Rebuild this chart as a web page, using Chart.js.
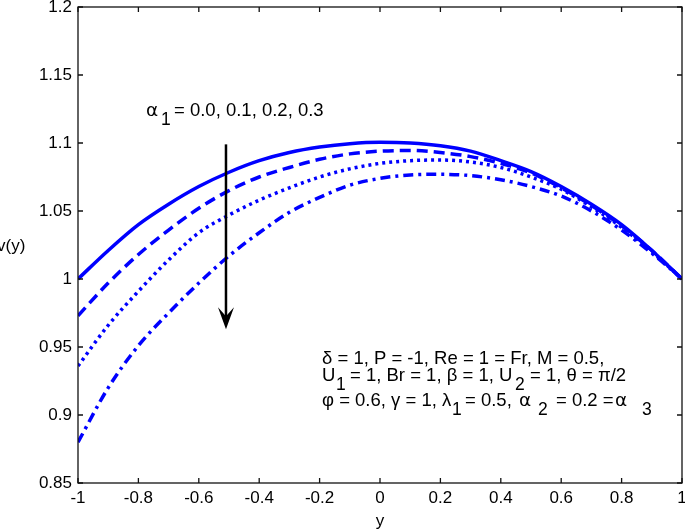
<!DOCTYPE html>
<html><head><meta charset="utf-8">
<script src="https://cdn.jsdelivr.net/npm/chart.js@4.4.0/dist/chart.umd.min.js"></script>
<style>html,body{margin:0;padding:0;background:#fff;overflow:hidden}</style>
</head><body>
<canvas id="c" width="685" height="532" style="width:685px;height:532px"></canvas>
<script>
// ---- data ----
const yPos = [-1,-0.9,-0.8,-0.7,-0.6,-0.5,-0.4,-0.3,-0.2,-0.1,0,0.1,0.2,0.3,0.4,0.5,0.6,0.7,0.8,0.9,1];
const v_a00 = [1.000,1.021,1.040,1.055,1.068,1.0785,1.087,1.093,1.097,1.0995,1.1005,1.100,1.098,1.094,1.087,1.079,1.068,1.055,1.040,1.021,1.000];
const v_a01 = [0.973,0.997,1.018,1.036,1.052,1.065,1.075,1.082,1.088,1.092,1.094,1.0945,1.093,1.090,1.085,1.078,1.067,1.054,1.039,1.021,1.000];
const v_a02 = [0.936,0.966,0.991,1.014,1.034,1.047,1.058,1.067,1.075,1.081,1.085,1.087,1.0875,1.086,1.082,1.075,1.066,1.053,1.038,1.020,1.000];
const v_a03 = [0.880,0.920,0.951,0.975,0.997,1.017,1.034,1.049,1.060,1.069,1.074,1.0765,1.077,1.076,1.073,1.068,1.061,1.050,1.036,1.019,1.000];
const seriesNames = ['α1 = 0.0','α1 = 0.1','α1 = 0.2','α1 = 0.3'];
const xTickValues = [-1,-0.8,-0.6,-0.4,-0.2,0,0.2,0.4,0.6,0.8,1];
const yTickValues = [0.85,0.9,0.95,1,1.05,1.1,1.15,1.2];
const xTitle = 'y';
const yTitle = 'v(y)';
// arrow annotation (data coordinates)
const arrowX = -0.51, arrowFrom = 1.099, arrowTo = 0.963;

const FONT = '"Liberation Sans", Arial, sans-serif';
const GREEK = '"DejaVu Sans", "Liberation Sans", sans-serif';
Chart.defaults.font.family = FONT;
Chart.defaults.font.size = 17;
Chart.defaults.color = '#000';

function pts(vals){ return yPos.map((x,i)=>({x:x, y:vals[i]})); }
const styles = [[],[11,6],[3,4],[10,5,3,5]];
const allVals = [v_a00,v_a01,v_a02,v_a03];
const datasets = allVals.map((vals,i)=>({
  label: seriesNames[i], data: pts(vals), borderColor:'#0000ff', borderWidth:3.5,
  borderDash: styles[i], pointRadius:0, fill:false, tension:0.4, cubicInterpolationMode:'monotone',
  borderCapStyle:'butt'
}));

// segments: t = text, x = left position (px), sub = subscript, g = greek font
function rich(ctx, y, segs, size, subOff){
  for (const s of segs){
    ctx.font = (s.sub ? size-1 : size) + 'px ' + (s.g ? GREEK : FONT);
    ctx.fillText(s.t, s.x, y + (s.sub ? subOff : 0));
  }
}

const deco = {
  id:'deco',
  afterDatasetsDraw(chart){
    const {ctx, chartArea:a, scales:{x,y}} = chart;
    ctx.save();
    ctx.strokeStyle = '#111'; ctx.lineWidth = 1.3;
    ctx.strokeRect(a.left, a.top, a.right-a.left, a.bottom-a.top);
    ctx.beginPath();
    for (const v of yTickValues){
      const p = y.getPixelForValue(v);
      ctx.moveTo(a.left, p); ctx.lineTo(a.left+5, p);
      ctx.moveTo(a.right, p); ctx.lineTo(a.right-5, p);
    }
    for (const v of xTickValues){
      const p = x.getPixelForValue(v);
      ctx.moveTo(p, a.bottom); ctx.lineTo(p, a.bottom-5);
      ctx.moveTo(p, a.top); ctx.lineTo(p, a.top+5);
    }
    ctx.stroke();

    // arrow
    const ax = x.getPixelForValue(arrowX), y1 = y.getPixelForValue(arrowFrom), y2 = y.getPixelForValue(arrowTo);
    ctx.strokeStyle = '#000'; ctx.lineWidth = 2.5;
    ctx.beginPath(); ctx.moveTo(ax, y1); ctx.lineTo(ax, y2-12); ctx.stroke();
    ctx.fillStyle = '#000';
    ctx.beginPath();
    ctx.moveTo(ax, y2); ctx.lineTo(ax-8, y2-22); ctx.lineTo(ax, y2-13); ctx.lineTo(ax+8, y2-22); ctx.closePath(); ctx.fill();

    // texts
    ctx.fillStyle = '#000'; ctx.textBaseline = 'alphabetic'; ctx.textAlign = 'left';
    rich(ctx, 116, [{t:'α',x:146,g:true},{t:'1',x:161,sub:true},{t:'= 0.0, 0.1, 0.2, 0.3',x:174}], 18.5, 9);
    rich(ctx, 364, [{t:'δ = 1, P = -1, Re = 1 = Fr, M = 0.5,',x:322}], 18.5, 9);
    rich(ctx, 381, [{t:'U',x:322},{t:'1',x:336,sub:true},{t:'= 1, Br = 1, β = 1, U',x:350},{t:'2',x:515,sub:true},{t:'= 1, θ = π/2',x:530}], 18.5, 9);
    rich(ctx, 406, [{t:'φ = 0.6, γ = 1, λ',x:322},{t:'1',x:452,sub:true},{t:'= 0.5,',x:465},{t:'α',x:519,g:true},{t:'2',x:538,sub:true},{t:'= 0.2 =',x:556},{t:'α',x:615,g:true},{t:'3',x:642,sub:true}], 18.5, 9);

    ctx.font = '17px ' + FONT;
    ctx.textAlign = 'center';
    ctx.fillText(xTitle, x.getPixelForValue(0), 526);
    ctx.textAlign = 'left';
    ctx.fillText(yTitle, -3, 251);
    ctx.restore();
  }
};

new Chart(document.getElementById('c'), {
  type:'line',
  data:{ datasets },
  options:{
    responsive:false, animation:false, devicePixelRatio:1,
    layout:{ padding:{ top:7, right:3, left:0, bottom:0 } },
    plugins:{ legend:{display:false}, tooltip:{enabled:false} },
    scales:{
      x:{ type:'linear', min:-1, max:1,
          grid:{display:false, drawTicks:false}, border:{display:false},
          afterBuildTicks(s){ s.ticks = xTickValues.map(v=>({value:v})); },
          afterFit(s){ s.height = 49; s.paddingLeft = 0; s.paddingRight = 0; },
          ticks:{ padding:5, maxRotation:0, autoSkip:false, color:'#000',
                  callback:(v)=>String(Math.round(v*10)/10) } },
      y:{ type:'linear', min:0.85, max:1.2,
          grid:{display:false, drawTicks:false}, border:{display:false},
          afterBuildTicks(s){ s.ticks = yTickValues.map(v=>({value:v})); },
          afterFit(s){ s.width = 78; s.paddingTop = 0; s.paddingBottom = 0; },
          ticks:{ padding:6, autoSkip:false, color:'#000',
                  callback:(v)=>String(Math.round(v*100)/100) } }
    }
  },
  plugins:[deco]
});
</script>
</body></html>
